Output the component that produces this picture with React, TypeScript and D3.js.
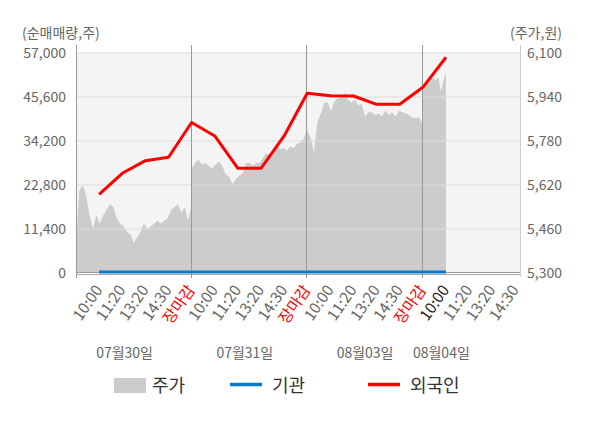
import { useEffect, useRef } from 'react';
import * as d3 from 'd3';

// Trading sessions and the intraday labels shown under each one
const sessions = ['07월30일', '07월31일', '08월03일', '08월04일'];
const timeLabels = ['10:00', '11:20', '13:20', '14:30', '장마감'];

// Intraday price (원), sampled evenly across each session
const priceDay1 = [
  5410, 5600, 5620, 5580, 5510, 5460, 5510, 5480, 5510, 5530, 5550, 5540,
  5500, 5480, 5470, 5450, 5440, 5410, 5430, 5450, 5480, 5460, 5470, 5480,
  5490, 5480, 5490, 5500, 5530, 5540, 5550, 5520, 5540, 5490, 5550,
];
const priceDay2 = [
  5680, 5700, 5715, 5695, 5700, 5690, 5680, 5695, 5705, 5690, 5660, 5650,
  5625, 5640, 5655, 5660, 5700, 5700, 5690, 5700, 5700, 5720, 5735, 5730,
  5740, 5770, 5750, 5755, 5745, 5760, 5755, 5770, 5775, 5790, 5825,
];
const priceDay3 = [
  5820, 5790, 5740, 5850, 5880, 5920, 5920, 5890, 5925, 5935, 5940, 5955,
  5930, 5920, 5930, 5910, 5915, 5870, 5885, 5885, 5875, 5880, 5870, 5890,
  5875, 5885, 5870, 5890, 5885, 5880, 5875, 5865, 5865, 5865, 5840,
];
const priceDay4 = [5960, 5980, 5990, 6005, 6010, 6000, 6015, 5960, 6000, 6030];

// Cumulative net buying (주) at each labelled time
const foreignNet = [
  20390, 25830, 29100, 29980, 38990, 35500, 27130, 27130,
  35500, 46560, 45940, 45860, 43710, 43710, 48110, 55890,
];
const institutionNet = [
  250, 250, 250, 250, 250, 250, 250, 250,
  250, 250, 250, 250, 250, 250, 250, 250,
];

const volumeTicks = [0, 11400, 22800, 34200, 45600, 57000];
const priceTicks = [5300, 5460, 5620, 5780, 5940, 6100];

const FONT = '"Noto Sans CJK KR", "Noto Sans", sans-serif';

export default function App() {
  const svgRef = useRef<SVGSVGElement>(null);
  const width = 600;
  const height = 428;

  useEffect(() => {
    if (!svgRef.current) return;
    const svg = d3.select(svgRef.current);
    svg.selectAll('*').remove();

    const left = 76;
    const right = 520;
    const top = 53;
    const bottom = 273;

    // one slot per time label, 5 per session; the last session is cut after 14:30
    const x = d3.scaleLinear().domain([0, 19.2]).range([left, right]);
    const yVol = d3.scaleLinear().domain([0, 57000]).range([bottom, top]);
    const yPrice = d3.scaleLinear().domain([5300, 6100]).range([bottom, top]);

    svg.append('rect')
      .attr('x', left).attr('y', top)
      .attr('width', right - left).attr('height', bottom - top)
      .attr('fill', '#f4f4f4');

    // price area
    const days = [priceDay1, priceDay2, priceDay3, priceDay4];
    const pricePts: [number, number][] = [];
    days.forEach((arr, d) => {
      const span = d < 3 ? 5 : 1;
      arr.forEach((p, i) => {
        pricePts.push([d * 5 + (i / (arr.length - 1)) * span, p]);
      });
    });
    const area = d3.area<[number, number]>()
      .x(d => x(d[0]))
      .y0(bottom)
      .y1(d => yPrice(d[1]));
    svg.append('path')
      .datum(pricePts)
      .attr('d', area)
      .attr('fill', '#cccccc');

    // grid
    svg.append('g')
      .selectAll('line')
      .data(volumeTicks.slice(1))
      .join('line')
      .attr('x1', left).attr('x2', right)
      .attr('y1', d => yVol(d)).attr('y2', d => yVol(d))
      .attr('stroke', '#dddddd')
      .attr('stroke-width', 1);

    svg.append('line')
      .attr('x1', left).attr('x2', right)
      .attr('y1', bottom - 0.5).attr('y2', bottom - 0.5)
      .attr('stroke', '#999').attr('stroke-width', 1);
    svg.append('line')
      .attr('x1', left).attr('x2', right)
      .attr('y1', bottom + 1.5).attr('y2', bottom + 1.5)
      .attr('stroke', '#aaa').attr('stroke-width', 1);

    // axes and session separators
    svg.append('line')
      .attr('x1', left + 0.5).attr('x2', left + 0.5)
      .attr('y1', 45).attr('y2', 278)
      .attr('stroke', '#999');
    svg.append('line')
      .attr('x1', right + 0.5).attr('x2', right + 0.5)
      .attr('y1', 45).attr('y2', 277)
      .attr('stroke', '#ccc');
    svg.append('g')
      .selectAll('line')
      .data([5, 10, 15])
      .join('line')
      .attr('x1', d => Math.round(x(d)) - 0.5).attr('x2', d => Math.round(x(d)) - 0.5)
      .attr('y1', 45).attr('y2', 278)
      .attr('stroke', '#999');

    // net buying lines
    const slotX = (i: number) => x(i + 1);
    const line = d3.line<number>()
      .x((_, i) => slotX(i))
      .y(d => yVol(d));
    svg.append('path')
      .datum(institutionNet)
      .attr('d', line)
      .attr('fill', 'none')
      .attr('stroke', '#0a7ac6')
      .attr('stroke-width', 3);
    svg.append('path')
      .datum(foreignNet)
      .attr('d', line)
      .attr('fill', 'none')
      .attr('stroke', '#ff0000')
      .attr('stroke-width', 3)
      .attr('stroke-linejoin', 'round');

    // y tick labels
    svg.append('g')
      .selectAll('text')
      .data(volumeTicks)
      .join('text')
      .attr('x', 66)
      .attr('y', d => yVol(d))
      .attr('dy', '0.35em')
      .attr('text-anchor', 'end')
      .attr('font-size', 14)
      .attr('fill', '#666')
      .text(d => d3.format(',')(d));
    svg.append('g')
      .selectAll('text')
      .data(priceTicks)
      .join('text')
      .attr('x', 527)
      .attr('y', d => yPrice(d))
      .attr('dy', '0.35em')
      .attr('text-anchor', 'start')
      .attr('font-size', 14)
      .attr('fill', '#666')
      .text(d => d3.format(',')(d));

    svg.append('text')
      .attr('x', 22).attr('y', 38)
      .attr('font-size', 14).attr('fill', '#666')
      .text('(순매매량,주)');
    svg.append('text')
      .attr('x', 562).attr('y', 38)
      .attr('text-anchor', 'end')
      .attr('font-size', 14).attr('fill', '#666')
      .text('(주가,원)');

    // x tick labels
    const xLabels: { label: string; slot: number; color: string }[] = [];
    sessions.forEach((_, d) => {
      timeLabels.forEach((t, k) => {
        const slot = d * 5 + k + 1;
        if (slot > 19) return;
        let color = '#666';
        if (t === '장마감') color = '#ff0000';
        if (d === sessions.length - 1 && k === 0) color = '#222';
        xLabels.push({ label: t, slot, color });
      });
    });
    svg.append('g')
      .selectAll('text')
      .data(xLabels)
      .join('text')
      .attr('transform', d => `translate(${x(d.slot) + 4}, 290) rotate(-55)`)
      .attr('text-anchor', 'end')
      .attr('font-size', 15.5)
      .attr('fill', d => d.color)
      .text(d => d.label);

    // session date labels
    const dateSlots = [2.1, 7.3, 12.5, 15.8];
    svg.append('g')
      .selectAll('text')
      .data(sessions)
      .join('text')
      .attr('x', (_, i) => x(dateSlots[i]))
      .attr('y', 358)
      .attr('text-anchor', 'middle')
      .attr('font-size', 14)
      .attr('fill', '#666')
      .text(d => d);

    // legend
    const lg = svg.append('g');
    lg.append('rect')
      .attr('x', 114).attr('y', 378)
      .attr('width', 32).attr('height', 15)
      .attr('fill', '#cccccc');
    lg.append('text')
      .attr('x', 152).attr('y', 392)
      .attr('font-size', 18).attr('fill', '#333')
      .text('주가');
    lg.append('line')
      .attr('x1', 230).attr('x2', 262)
      .attr('y1', 384.5).attr('y2', 384.5)
      .attr('stroke', '#0a7ac6').attr('stroke-width', 3.5);
    lg.append('text')
      .attr('x', 272).attr('y', 392)
      .attr('font-size', 18).attr('fill', '#333')
      .text('기관');
    lg.append('line')
      .attr('x1', 368).attr('x2', 400)
      .attr('y1', 384.5).attr('y2', 384.5)
      .attr('stroke', '#ff0000').attr('stroke-width', 3.5);
    lg.append('text')
      .attr('x', 410).attr('y', 392)
      .attr('font-size', 18).attr('fill', '#333')
      .text('외국인');
  }, []);

  return (
    <svg
      ref={svgRef}
      width={width}
      height={height}
      style={{ position: 'absolute', left: 0, top: 0, background: '#fff', fontFamily: FONT }}
    />
  );
}
